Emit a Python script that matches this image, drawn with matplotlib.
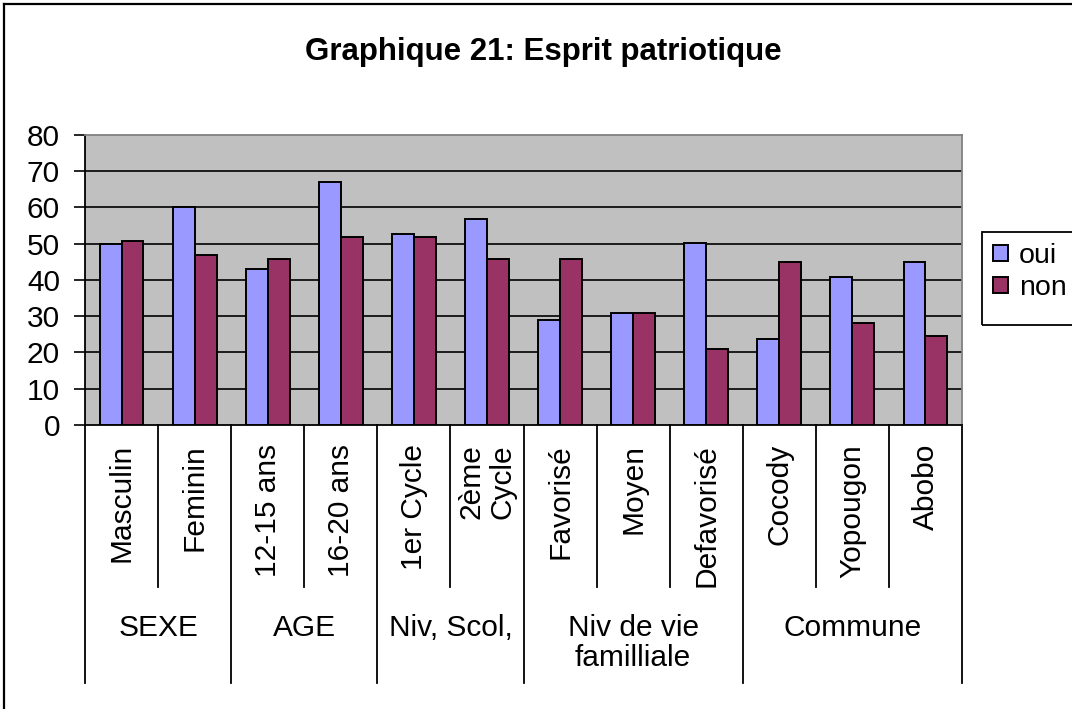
import numpy as np
import matplotlib
matplotlib.use('Agg')
import matplotlib.pyplot as plt
import matplotlib.transforms as mtransforms
from matplotlib.lines import Line2D
from matplotlib.patches import Rectangle

categories = ['Masculin', 'Feminin', '12-15 ans', '16-20 ans', '1er Cycle',
              '2ème\nCycle', 'Favorisé', 'Moyen', 'Defavorisé', 'Cocody',
              'Yopougon', 'Abobo']
groups = ['SEXE', 'AGE', 'Niv, Scol,', 'Niv de vie\nfamilliale', 'Commune']
group_sizes = [2, 2, 2, 3, 3]
oui = [50, 60, 42.9, 66.9, 52.8, 56.7, 29, 30.8, 50.1, 23.6, 40.8, 45.1]
non = [50.8, 46.8, 45.8, 51.8, 51.8, 45.8, 45.8, 30.8, 20.9, 45.1, 28, 24.6]
yticks = [0, 10, 20, 30, 40, 50, 60, 70, 80]

plt.rcParams['font.family'] = ['Liberation Sans', 'DejaVu Sans']
FS = 21.5

W, H = 1072, 709
fig = plt.figure(figsize=(W / 100, H / 100), dpi=100)

# plot area in pixels
px_l, px_r, px_t, px_b = 85, 962, 135, 425
ax = fig.add_axes([px_l / W, 1 - px_b / H, (px_r - px_l) / W, (px_b - px_t) / H])
ax.set_facecolor('#c0c0c0')

x = np.arange(len(categories))
bw = 0.3
ax.bar(x - bw / 2, oui, bw, color='#9999ff', edgecolor='black', linewidth=1.4,
       label='oui', zorder=3)
ax.bar(x + bw / 2, non, bw, color='#993366', edgecolor='black', linewidth=1.4,
       label='non', zorder=3)

ax.set_xlim(-0.5, len(categories) - 0.5)
ax.set_ylim(0, 80)
ax.set_yticks(yticks)
ax.tick_params(axis='y', direction='out', length=8, width=1.2, pad=10,
               labelsize=FS)
ax.set_xticks([])
for y in yticks[1:-1]:
    ax.axhline(y, color='black', linewidth=1.2, zorder=1)

for s in ['top', 'right']:
    ax.spines[s].set_color('#808080')
    ax.spines[s].set_linewidth(1.3)
for s in ['left', 'bottom']:
    ax.spines[s].set_color('black')
    ax.spines[s].set_linewidth(1.3)


def yfrac(py):
    return (px_b - py) / (px_b - px_t)


trans = mtransforms.blended_transform_factory(ax.transData, ax.transAxes)

# category labels
for i, c in enumerate(categories):
    ax.text(i, yfrac(444), c, transform=trans, rotation=90, ha='center',
            va='top', fontsize=FS, linespacing=1.1)

# vertical separators
bounds = np.cumsum([0] + group_sizes)
for k in range(len(categories) + 1):
    xb = k - 0.5
    low = 683 if k in bounds else 587
    ax.add_line(Line2D([xb, xb], [0, yfrac(low)], transform=trans,
                       color='black', linewidth=1.3, clip_on=False))

# group labels
for g, a, b in zip(groups, bounds[:-1], bounds[1:]):
    xc = (a + b - 1) / 2
    if '\n' in g:
        ax.text(xc, yfrac(614), g, transform=trans, ha='center', va='top',
                fontsize=FS, linespacing=1.1)
    else:
        ax.text(xc, yfrac(628), g, transform=trans, ha='center',
                va='center', fontsize=FS)

# legend; its box runs past the right edge, as in the original
leg = fig.legend(loc='upper left', bbox_to_anchor=(982 / W, 1 - 232 / H),
                 fontsize=20.5, frameon=False, handlelength=0.5,
                 handleheight=0.5, handletextpad=0.4, borderpad=0.4,
                 labelspacing=0.2, borderaxespad=0)
fig.add_artist(Rectangle((982 / W, 1 - 325 / H), 130 / W, 93 / H,
                         transform=fig.transFigure, fill=False,
                         edgecolor='black', linewidth=1.3))

fig.text(543 / W, 1 - 52 / H, 'Graphique 21: Esprit patriotique',
         ha='center', va='center', fontsize=22.5, fontweight='bold')

# outer chart border (right and bottom are outside the image)
fig.add_artist(Line2D([4 / W, 4 / W], [0, 1 - 4 / H], transform=fig.transFigure,
                      color='black', linewidth=1.6))
fig.add_artist(Line2D([4 / W, 1], [1 - 4 / H, 1 - 4 / H],
                      transform=fig.transFigure, color='black', linewidth=1.6))

fig.savefig('out.png', dpi=100)
